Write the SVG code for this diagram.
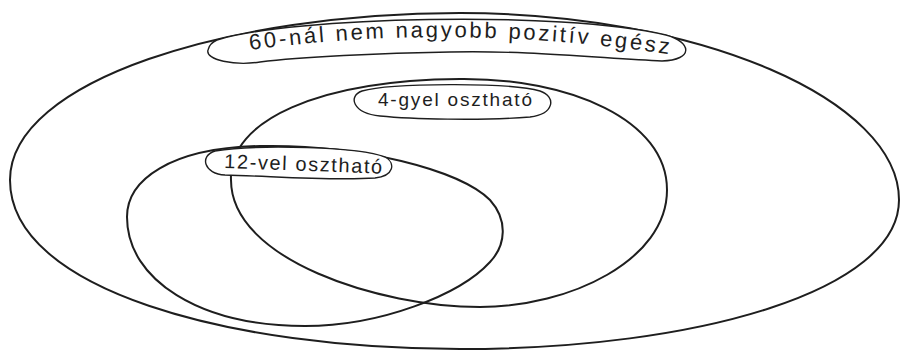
<svg xmlns="http://www.w3.org/2000/svg" width="900" height="354" viewBox="0 0 900 354">
  <style>
    .set { fill: none; stroke: #1e1e1e; stroke-width: 2; stroke-linecap: round; stroke-linejoin: round; }
    .pill { fill: #ffffff; stroke: #1e1e1e; stroke-width: 1.4; }
    .lbl { font-family: "Liberation Sans", "DejaVu Sans", sans-serif; fill: #1e1e1e; }
  </style>
  <defs>
    <path id="arcTop" d="M 250,50 Q 455,22 675,55"/>
  </defs>
  <rect width="900" height="354" fill="#ffffff"/>

  <g id="universe">
    <path class="set" d="M 10,180 C 10,80 230,13 460,13 C 700,13 899,100 899,200 C 899,290 700,349 460,349 C 230,349 10,290 10,180 Z"/>
    <path class="pill" d="M 217,40 C 290,17 560,10 666,35 C 692,42 694,60 662,61 C 600,58 520,50 450,52 C 380,53 300,57 260,62 C 235,66 205,60 208,50 C 209,46 212,42 217,40 Z"/>
    <text class="lbl" font-size="22"><textPath href="#arcTop" textLength="420" lengthAdjust="spacing">60-nál nem nagyobb pozitív egész</textPath></text>
  </g>

  <g id="div4">
    <path class="set" d="M 231,180 C 228,120 320,80 460,79 C 570,78 667,120 667,190 C 667,260 570,307 480,307 C 380,307 231,260 231,180 Z"/>
    <path class="pill" d="M 362,91 C 390,83 510,82 540,91 C 557,97 554,114 530,117 C 480,121 410,119 380,116 C 352,113 348,96 362,91 Z"/>
    <text class="lbl" font-size="19" x="378" y="106" textLength="154" lengthAdjust="spacing">4-gyel osztható</text>
  </g>

  <g id="div12">
    <path class="set" d="M 127,217 C 127,180 170,148 260,146 C 360,144 460,170 490,200 C 508,220 506,245 490,262 C 460,295 380,326 305,326 C 200,326 127,280 127,217 Z"/>
    <path class="pill" d="M 215,151 C 260,144 360,147 385,157 C 396,163 394,176 375,178 C 330,181 270,176 225,175 C 204,174 199,156 215,151 Z"/>
    <text class="lbl" font-size="20" x="224" y="168" textLength="158" lengthAdjust="spacing" transform="rotate(2 224 168)">12-vel osztható</text>
  </g>
</svg>
